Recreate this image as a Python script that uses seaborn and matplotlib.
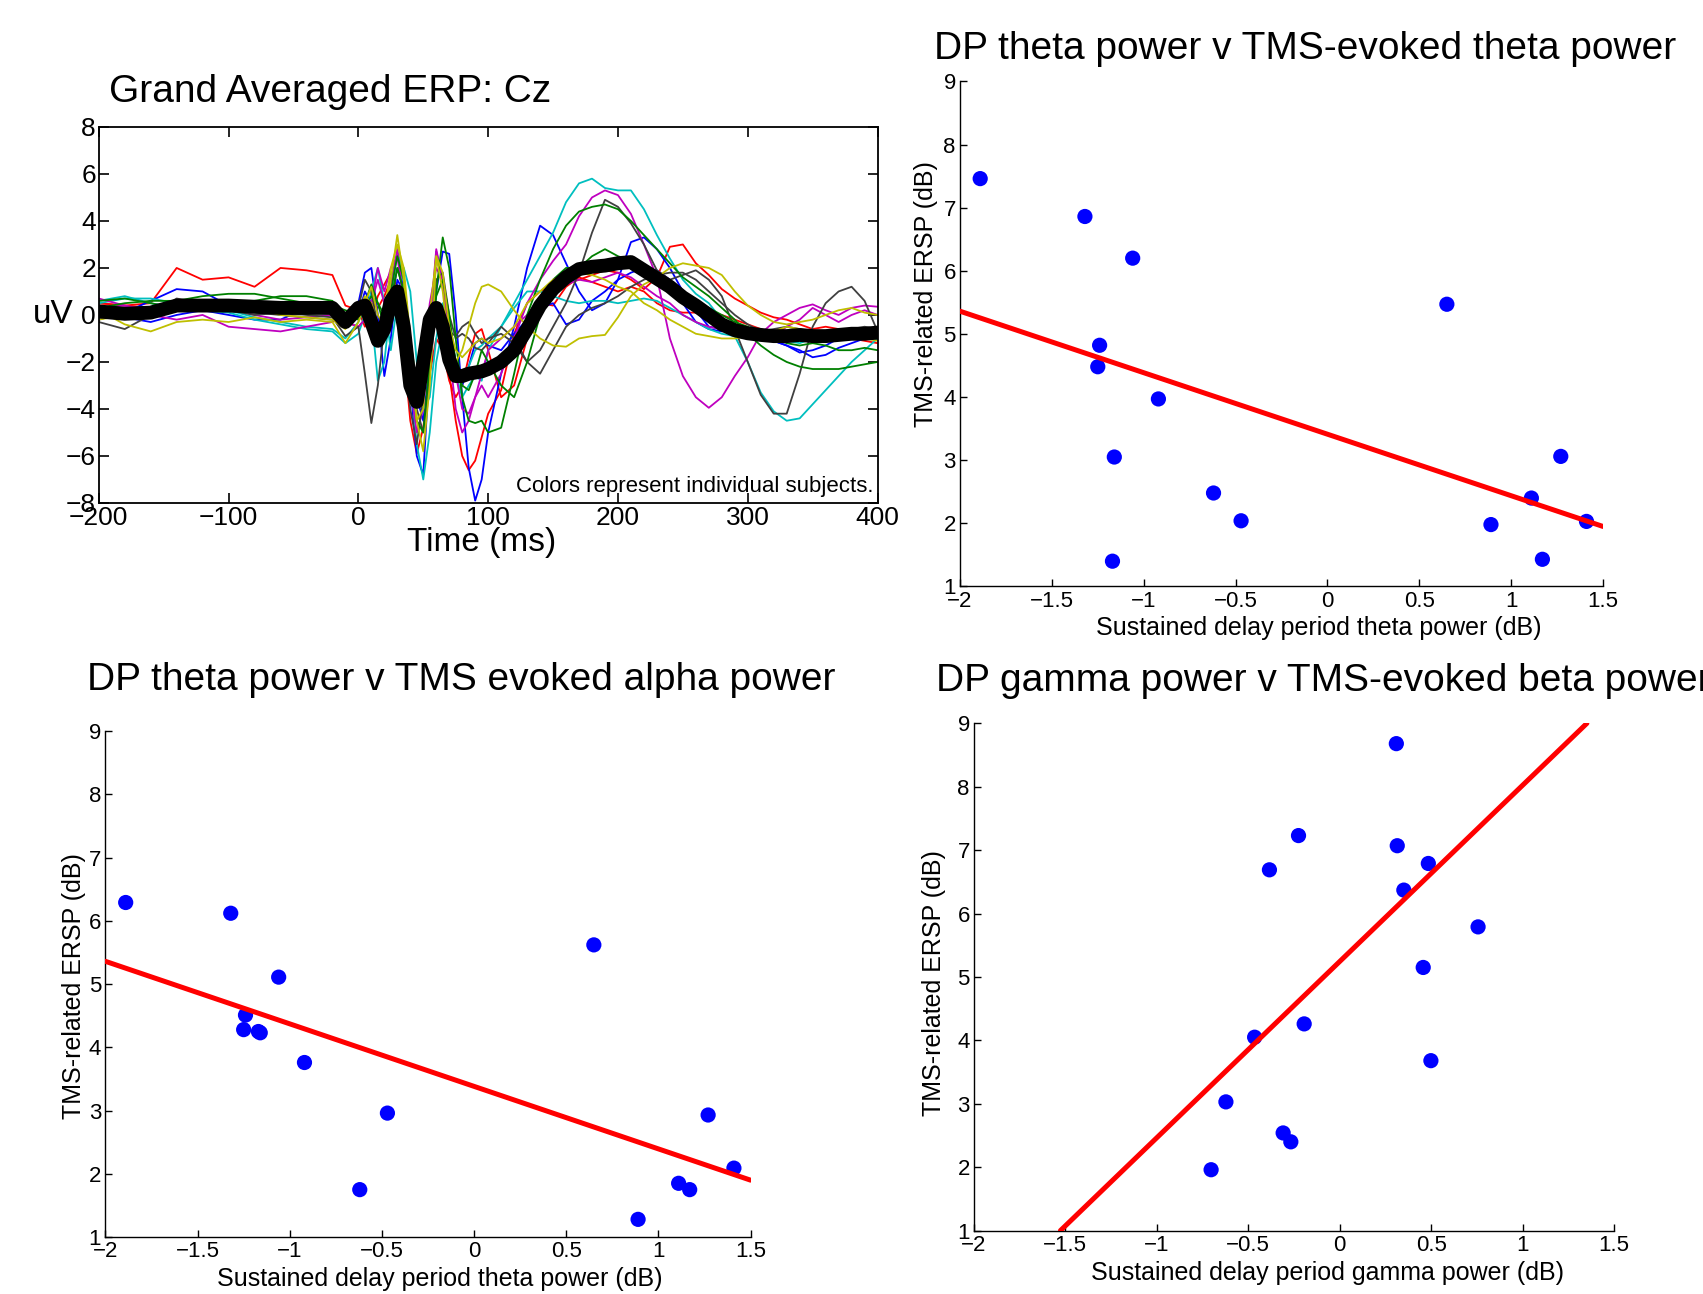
import numpy as np
import pandas as pd
import seaborn as sns
import matplotlib.pyplot as plt

# ---------------------------------------------------------
# ERP data (uV)
# ---------------------------------------------------------
erp_time = [-200, -180, -160, -140, -120, -100, -80, -60, -40, -20, -10, 0,
            5, 10, 15, 20, 25, 30, 35, 40, 45, 50, 55, 60, 65, 70, 75, 80, 85, 90, 95, 100,
            110, 120, 130, 140, 150, 160, 170, 180, 190, 200, 210, 220, 230, 240, 250, 260,
            270, 280, 290, 300, 310, 320, 330, 340, 350, 360, 370, 380, 390, 400]

red_a = [0.5, 0.4, 0.5, 2.0, 1.5, 1.6, 1.2, 2.0, 1.9, 1.7, 0.4, 0.2,
         -0.5, 0.0, 0.8, 1.3, 1.8, 1.2, -0.5, -2.0, -3.0, -2.0, -0.5, 0.2, -0.5, -2.5, -4.5, -6.0, -6.6, -6.2, -5.2, -4.2,
         -3.2, -0.8, 0.5, 1.0, 1.3, 1.4, 1.5, 1.7, 1.9, 1.8, 1.5, 1.1, 1.6, 2.9, 3.0, 2.2,
         1.7, 1.1, 0.7, 0.4, 0.1, -0.1, -0.2, -0.4, -0.6, -0.5, -0.6, -0.7, -0.6, -0.8]
red_b = [0.5, 0.4, 0.3, 0.2, 0.3, 0.4, 0.3, 0.1, 0.2, 0.1, -0.3, -0.5,
         -0.2, 0.5, 0.3, 0.8, 1.5, 1.0, -1.5, -4.5, -5.9, -4.8, -2.5, -1.0, -1.5, -2.8, -3.5, -3.0, -1.8, -0.8, -0.6, -1.5,
         -3.5, -3.0, -1.0, 0.5, 0.4, 1.2, 1.6, 1.4, 1.2, 1.0, 1.2, 1.0, 0.5, 0.2, 0.1, 0.1,
         0.1, 0.0, -0.2, -0.4, -0.6, -0.8, -0.9, -1.0, -0.9, -0.8, -0.9, -1.0, -1.1, -1.2]
blue_a = [-0.2, 0.1, 0.6, 1.1, 1.0, 0.4, 0.2, 0.3, 0.2, 0.5, 0.0, 0.5,
          1.8, 2.0, 0.0, -2.6, -1.0, 1.5, 1.0, -1.5, -3.5, -4.5, -2.0, 1.0, 2.7, 2.6, 0.0, -3.5, -6.5, -7.9, -7.0, -5.0,
          -2.5, -0.5, 2.0, 3.8, 3.4, 2.2, 1.0, 0.2, 0.5, 1.5, 1.8, 2.0, 1.9, 1.5, 0.5, -0.3,
          -0.6, -0.7, -0.6, -0.8, -1.0, -1.1, -1.3, -1.5, -1.8, -1.7, -1.4, -1.2, -1.0, -0.9]
blue_b = [0.2, -0.1, -0.3, 0.0, 0.2, 0.0, -0.2, -0.2, 0.3, 0.4, -0.5, 0.0,
          1.0, 0.5, -1.0, -0.5, 1.5, 2.6, 1.0, -3.0, -6.0, -6.8, -2.0, 2.7, 1.5, -1.0, -2.5, -3.0, -2.2, -1.2, -1.0, -1.3,
          -1.5, -0.8, -0.2, 0.3, 0.5, -0.4, -0.2, 0.6, 1.0, 1.5, 3.1, 3.3, 2.8, 2.0, 1.0, 0.2,
          -0.5, -0.6, -0.8, -0.9, -1.0, -1.1, -1.3, -1.6, -1.5, -1.3, -1.0, -0.9, -0.8, -0.7]
cyan_a = [0.5, 0.7, 0.7, 0.5, 0.4, 0.2, -0.1, -0.3, -0.5, -0.6, -1.0, -0.3,
          0.3, 0.0, -2.8, -2.0, 0.5, 2.8, 1.5, -2.5, -5.5, -7.0, -5.0, -2.0, -0.5, -1.0, -2.5, -3.5, -3.0, -2.6, -2.8, -1.5,
          -0.5, 0.5, 1.5, 2.5, 3.5, 4.8, 5.6, 5.8, 5.4, 5.3, 5.3, 4.5, 3.4, 2.4, 1.5, 0.9,
          0.5, -0.2, -0.9, -2.0, -3.3, -4.1, -4.5, -4.4, -3.8, -3.2, -2.6, -2.0, -1.5, -1.0]
cyan_b = [0.6, 0.8, 0.5, 0.3, 0.2, 0.1, -0.2, -0.4, -0.6, -0.7, -1.2, -0.8,
          0.0, 1.0, 2.0, 0.5, -1.5, 0.5, 2.0, 1.0, -2.0, -4.0, -3.5, -1.0, 0.5, -0.5, -2.0, -2.6, -2.2, -1.5, -1.3, -1.0,
          -0.5, 0.3, 1.0, 1.0, 0.8, 0.6, 0.5, 0.6, 0.6, 0.5, 0.6, 0.7, 0.6, 0.3, 0.0, -0.3,
          -0.6, -0.8, -0.9, -1.0, -0.9, -1.0, -1.1, -1.2, -1.0, -0.9, -0.8, -0.7, -0.6, -0.6]
magenta_a = [0.3, 0.4, 0.2, 0.3, 0.5, 0.3, 0.0, -0.2, -0.1, 0.0, -0.3, -0.5,
             -0.2, 0.5, 1.5, 0.5, 1.0, 2.8, 0.5, -3.0, -5.0, -4.0, -0.5, 2.8, 1.5, -1.5, -4.0, -5.0, -4.5, -3.5, -3.0, -3.5,
             -2.5, -1.0, 0.5, 1.5, 2.3, 3.0, 4.2, 5.0, 5.3, 5.1, 4.3, 3.0, 1.6, -1.0, -2.6, -3.5,
             -3.95, -3.5, -2.6, -1.8, -0.8, -0.3, 0.0, 0.3, 0.45, 0.2, 0.0, 0.3, 0.4, 0.35]
magenta_b = [0.7, 0.4, 0.0, -0.2, 0.0, -0.5, -0.6, -0.7, -0.5, -0.3, 0.0, 0.0,
             0.2, 0.5, 2.0, 1.0, 2.0, 2.5, 0.5, -2.0, -3.5, -2.0, 0.5, 2.0, 1.5, -0.5, -2.5, -4.0, -4.2, -3.5, -2.5, -1.5,
             -1.0, -0.5, 0.0, 0.5, 1.0, 1.3, 1.5, 1.4, 1.6, 1.8, 1.6, 1.2, 0.8, 0.5, 0.0, -0.3,
             -0.5, -0.6, -0.7, -0.8, -1.0, -0.9, -0.5, -0.2, 0.3, 0.0, -0.3, 0.0, 0.2, 0.0]
gray_a = [-0.3, -0.6, 0.0, 0.7, 0.5, 0.2, 0.0, 0.1, 0.0, -0.1, -0.9, -0.5,
          -2.5, -4.6, -3.0, -0.5, 1.0, 0.8, -1.5, -4.0, -5.5, -3.5, -1.0, 1.5, 1.8, 0.0, -1.0, -0.8, -1.0, -1.4, -1.5, -1.2,
          -0.5, -1.0, -2.0, -1.5, -0.5, 0.5, 1.8, 3.5, 4.9, 4.6, 3.9, 3.0, 1.9, 1.5, 1.7, 1.9,
          1.5, 0.8, -0.6, -2.0, -3.4, -4.2, -4.2, -2.5, -0.5, 0.5, 1.0, 1.2, 0.6, -0.7]
gray_b = [0.4, 0.2, 0.3, 0.5, 0.4, 0.2, 0.1, 0.0, -0.1, -0.2, -0.5, 0.3,
          1.5, 1.0, -0.5, -1.0, 0.5, 2.0, 1.0, -1.5, -4.0, -5.0, -2.5, 0.5, 0.0, -0.7, -0.9, -0.5, -0.3, -0.8, -1.2, -1.0,
          -0.8, -1.2, -2.0, -2.5, -1.5, -0.5, 0.0, 0.3, 0.5, 0.8, 1.2, 1.5, 1.7, 1.8, 1.8, 1.5,
          1.0, 0.5, 0.0, -0.4, -0.7, -0.6, -0.5, -0.6, -0.8, -0.8, -0.7, -0.6, -0.5, -0.6]
green_a = [0.3, 0.5, 0.6, 0.6, 0.8, 0.9, 0.9, 0.7, 0.5, 0.4, 0.2, 0.0,
           0.5, 1.3, 0.5, -0.5, 0.5, 2.0, 1.0, -2.0, -4.5, -5.0, -2.0, 1.0, 3.3, 2.0, -1.0, -3.5, -4.5, -4.6, -4.5, -5.0,
           -4.8, -2.5, 0.0, 1.5, 2.8, 3.8, 4.4, 4.6, 4.7, 4.5, 4.0, 3.4, 2.8, 2.2, 1.6, 1.2,
           0.8, 0.3, -0.2, -0.8, -1.3, -1.7, -2.0, -2.2, -2.3, -2.3, -2.3, -2.2, -2.1, -2.0]
green_b = [0.6, 0.7, 0.5, 0.3, 0.5, 0.4, 0.6, 0.8, 0.8, 0.6, 0.0, -0.2,
           0.3, 0.8, 0.5, 0.0, 1.0, 2.5, 1.5, -1.0, -3.0, -3.5, -1.5, 0.8, 1.5, 0.0, -2.0, -3.0, -3.2, -2.5, -1.5, -2.0,
           -3.0, -3.5, -2.0, 0.0, 1.5, 2.0, 2.0, 2.5, 2.8, 2.5, 2.3, 2.0, 1.6, 1.2, 0.9, 0.6,
           0.3, 0.0, -0.3, -0.5, -0.8, -1.0, -1.2, -1.3, -1.2, -1.3, -1.5, -1.5, -1.4, -1.5]
yellow_a = [0.2, -0.4, -0.7, -0.3, -0.2, -0.3, -0.1, -0.3, -0.2, -0.3, -1.2, -0.3,
            0.5, 1.2, 0.0, -0.5, 1.5, 3.4, 1.5, -2.0, -4.5, -4.0, 0.0, 2.5, 1.0, -1.5, -2.0, -1.5, -0.5, 0.5, 1.2, 1.3,
            1.0, 0.2, -0.5, -1.0, -1.3, -1.35, -1.0, -0.9, -0.85, -0.1, 0.8, 1.3, 1.6, 2.0, 2.2, 2.1,
            2.0, 1.7, 1.0, 0.4, 0.0, -0.3, -0.4, -0.3, -0.2, 0.0, 0.2, 0.3, 0.1, 0.0]
yellow_b = [-0.2, 0.0, 0.2, 0.4, 0.3, 0.2, 0.3, 0.0, -0.1, -0.2, -0.6, 0.2,
            0.8, 0.5, -0.5, 0.0, 2.0, 3.0, 2.0, -1.0, -4.5, -5.8, -3.0, 2.5, 1.8, -0.5, -1.5, -1.8, -1.5, -1.2, -1.0, -1.2,
            -1.0, -0.5, 0.5, 1.0, 1.5, 1.7, 1.8, 1.7, 1.5, 1.2, 1.0, 0.5, 0.2, -0.2, -0.5, -0.8,
            -0.9, -1.0, -1.0, -0.9, -0.8, -0.7, -0.5, -0.6, -0.7, -0.8, -0.8, -0.9, -1.0, -1.1]

grand_avg = [0.15, 0.05, 0.1, 0.4, 0.4, 0.4, 0.35, 0.3, 0.3, 0.3, -0.3, 0.3,
             0.4, -0.3, -1.1, -0.6, 0.6, 1.0, -0.5, -3.0, -3.7, -2.0, -0.2, 0.3, -0.5, -1.9, -2.6, -2.6, -2.5, -2.45, -2.4, -2.3,
             -2.0, -1.5, -0.6, 0.4, 1.1, 1.6, 1.95, 2.05, 2.1, 2.2, 2.25, 1.9, 1.55, 1.2, 0.75, 0.4,
             0.0, -0.4, -0.65, -0.78, -0.85, -0.9, -0.9, -0.85, -0.9, -0.9, -0.85, -0.8, -0.8, -0.75]

# ---------------------------------------------------------
# Scatter data (dB)
# ---------------------------------------------------------
dp_theta = [-1.89, -1.32, -1.06, 0.65, -1.24, -1.25, -0.92, -1.16, -0.62, -0.47, -1.17, 1.27, 1.11, 0.89, 1.17, 1.41]
tms_theta = [7.46, 6.86, 6.20, 5.47, 4.82, 4.48, 3.97, 3.05, 2.48, 2.04, 1.40, 3.06, 2.40, 1.98, 1.43, 2.03]
tms_alpha = [6.29, 6.12, 5.11, 5.62, 4.51, 4.28, 3.76, 4.23, 1.75, 2.96, 4.25, 2.93, 1.85, 1.28, 1.75, 2.09]

dp_gamma = [0.31, -0.225, 0.315, -0.384, 0.485, 0.351, 0.757, 0.457, -0.194, -0.465, 0.499, -0.622, -0.309, -0.267, -0.703]
tms_beta = [8.68, 7.23, 7.07, 6.69, 6.79, 6.37, 5.79, 5.15, 4.26, 4.05, 3.68, 3.03, 2.54, 2.40, 1.96]

# fit lines as drawn
theta_fit_x = [-2.0, 1.5]
theta_fit_y = [5.36, 1.95]
alpha_fit_x = [-2.0, 1.5]
alpha_fit_y = [5.36, 1.90]
gamma_fit_x = [-1.527, 1.352]
gamma_fit_y = [1.0, 9.0]

x_ticks = [-2, -1.5, -1, -0.5, 0, 0.5, 1, 1.5]
x_ticklabels = ["\u22122", "\u22121.5", "\u22121", "\u22120.5", "0", "0.5", "1", "1.5"]
y_ticks = [1, 2, 3, 4, 5, 6, 7, 8, 9]
erp_xticks = [-200, -100, 0, 100, 200, 300, 400]
erp_yticks = [-8, -6, -4, -2, 0, 2, 4, 6, 8]

# ---------------------------------------------------------
# Build long-form ERP table
# ---------------------------------------------------------
subjects = {
    "red_a": red_a, "red_b": red_b, "blue_a": blue_a, "blue_b": blue_b,
    "cyan_a": cyan_a, "cyan_b": cyan_b, "magenta_a": magenta_a, "magenta_b": magenta_b,
    "gray_a": gray_a, "gray_b": gray_b, "green_a": green_a, "green_b": green_b,
    "yellow_a": yellow_a, "yellow_b": yellow_b,
}
palette = {
    "red_a": "#ff0000", "red_b": "#ff0000", "blue_a": "#0000ff", "blue_b": "#0000ff",
    "cyan_a": "#00bfbf", "cyan_b": "#00bfbf", "magenta_a": "#bf00bf", "magenta_b": "#bf00bf",
    "gray_a": "#404040", "gray_b": "#404040", "green_a": "#008000", "green_b": "#008000",
    "yellow_a": "#bfbf00", "yellow_b": "#bfbf00",
}
erp = pd.concat(
    [pd.DataFrame({"time": erp_time, "uV": vals, "subject": name}) for name, vals in subjects.items()],
    ignore_index=True,
)
avg = pd.DataFrame({"time": erp_time, "uV": grand_avg})

# ---------------------------------------------------------
# Plot
# ---------------------------------------------------------
sns.set_style("ticks", {"xtick.direction": "in", "ytick.direction": "in",
                        "axes.edgecolor": "black", "text.color": "black",
                        "axes.labelcolor": "black", "xtick.color": "black",
                        "ytick.color": "black"})
plt.rcParams["font.family"] = ["Liberation Sans", "DejaVu Sans"]

fig = plt.figure(figsize=(17.03, 12.94), dpi=100)
ax_erp = fig.add_axes([0.058, 0.6113, 0.4573, 0.2906])
ax_tr = fig.add_axes([0.5637, 0.5468, 0.3776, 0.3903])
ax_bl = fig.add_axes([0.0619, 0.0440, 0.3788, 0.3910])
ax_br = fig.add_axes([0.5719, 0.0490, 0.3758, 0.3920])

# ERP panel
sns.lineplot(data=erp, x="time", y="uV", hue="subject", palette=palette,
             linewidth=1.3, legend=False, ax=ax_erp, estimator=None, sort=False)
sns.lineplot(data=avg, x="time", y="uV", color="black", linewidth=10,
             ax=ax_erp, estimator=None, sort=False, solid_capstyle="round")
ax_erp.set_xlim(-200, 400)
ax_erp.set_ylim(-8, 8)
ax_erp.set_xticks(erp_xticks)
ax_erp.set_yticks(erp_yticks)
ax_erp.set_xticklabels([str(t).replace("-", "\u2212") for t in erp_xticks])
ax_erp.set_yticklabels([str(t).replace("-", "\u2212") for t in erp_yticks])
ax_erp.tick_params(direction="in", top=True, right=True, length=7, width=1.2,
                   labelsize=19, pad=2)
for s in ax_erp.spines.values():
    s.set_linewidth(1.3)
ax_erp.set_xlabel("Time (ms)", fontsize=24)
ax_erp.xaxis.set_label_coords(0.491, -0.104)
ax_erp.xaxis.label.set_va("center")
ax_erp.set_ylabel("uV", fontsize=24, rotation=0)
ax_erp.yaxis.set_label_coords(-0.0586, 0.5)
ax_erp.yaxis.label.set_va("center")
ax_erp.text(0.995, 0.043, "Colors represent individual subjects.", transform=ax_erp.transAxes,
            ha="right", va="center", fontsize=16)

# Scatter panels
panels = [
    (ax_tr, dp_theta, tms_theta, theta_fit_x, theta_fit_y,
     "Sustained delay period theta power (dB)", (0.558, -0.0818), (-0.0529, 0.5786)),
    (ax_bl, dp_theta, tms_alpha, alpha_fit_x, alpha_fit_y,
     "Sustained delay period theta power (dB)", (0.519, -0.0838), (-0.0487, 0.497)),
    (ax_br, dp_gamma, tms_beta, gamma_fit_x, gamma_fit_y,
     "Sustained delay period gamma power (dB)", (0.552, -0.0836), (-0.0625, 0.488)),
]
for ax, xs, ys, fx, fy, xlab, xl_pos, yl_pos in panels:
    sns.scatterplot(x=xs, y=ys, color="#0000ff", s=120, edgecolor="none", ax=ax, zorder=3)
    sns.lineplot(x=fx, y=fy, color="#ff0000", linewidth=3.6, ax=ax, zorder=4)
    ax.set_xlim(-2, 1.5)
    ax.set_ylim(1, 9)
    ax.set_xticks(x_ticks)
    ax.set_xticklabels(x_ticklabels)
    ax.set_yticks(y_ticks)
    ax.tick_params(direction="in", length=5, width=1.0, labelsize=16, pad=3)
    sns.despine(ax=ax)
    for s in ("left", "bottom"):
        ax.spines[s].set_linewidth(1.0)
    ax.set_xlabel(xlab, fontsize=18)
    ax.xaxis.set_label_coords(*xl_pos)
    ax.xaxis.label.set_va("center")
    ax.set_ylabel("TMS-related ERSP (dB)", fontsize=18)
    ax.yaxis.set_label_coords(*yl_pos)
    ax.yaxis.label.set_va("center")

# Titles
fig.text(0.064, 0.9289, "Grand Averaged ERP: Cz", fontsize=28, ha="left", va="center")
fig.text(0.5484, 0.9621, "DP theta power v TMS-evoked theta power", fontsize=28, ha="left", va="center")
fig.text(0.0511, 0.4745, "DP theta power v TMS evoked alpha power", fontsize=28, ha="left", va="center")
fig.text(0.5496, 0.4737, "DP gamma power v TMS-evoked beta power", fontsize=28, ha="left", va="center")

fig.savefig("out.png", dpi=100)
